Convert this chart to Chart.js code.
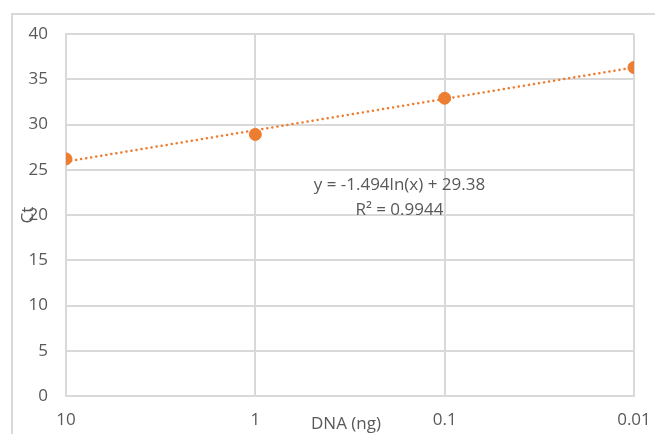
<!DOCTYPE html>
<html lang="en">
<head>
  <meta charset="UTF-8">
  <title>Ct vs DNA</title>
  <script src="https://cdn.jsdelivr.net/npm/chart.js"></script>
  <style>
    html, body { margin: 0; padding: 0; background: #fff; }
    #wrap { width: 655px; height: 434px; }
  </style>
</head>
<body>
  <div id="wrap"><canvas id="ctChart" width="655" height="434"></canvas></div>

  <script>
    // data
    const dnaAmounts = [10, 1, 0.1, 0.01];
    const ctValues = [26.2, 28.9, 32.9, 36.3];
    const xTickValues = [10, 1, 0.1, 0.01];
    const xTickLabels = ['10', '1', '0.1', '0.01'];
    const trendX = [10, 0.01];
    const trendY = [25.9, 36.3];
    const equationLines = ['y = -1.494ln(x) + 29.38', 'R\u00b2 = 0.9944'];
    const xTitle = 'DNA (ng)';
    const yTitle = 'Ct';

    const orange = '#ED7D31';
    const grey = '#D9D9D9';
    const textCol = '#595959';
    const fontFam = '"Open Sans", "Noto Sans", sans-serif';

    // frame, axis titles and the trendline label
    const extras = {
      id: 'extras',
      beforeDraw(chart) {
        const c = chart.ctx;
        c.save();
        c.strokeStyle = grey;
        c.lineWidth = 2;
        c.strokeRect(12, 14, 700, 500);
        c.restore();
      },
      afterDraw(chart) {
        const c = chart.ctx;
        const a = chart.chartArea;
        c.save();
        c.fillStyle = textCol;
        c.font = '17px ' + fontFam;
        c.textAlign = 'center';
        c.textBaseline = 'middle';
        const ex = a.left + (a.right - a.left) * 0.587;
        c.fillText(equationLines[0], ex, 185);
        c.fillText(equationLines[1], ex, 210);
        c.fillText(xTitle, 346, 424);
        c.translate(28, 215);
        c.rotate(-Math.PI / 2);
        c.fillText(yTitle, 0, 0);
        c.restore();
      }
    };

    new Chart(document.getElementById('ctChart'), {
      type: 'scatter',
      data: {
        datasets: [
          {
            label: 'Trend',
            data: trendX.map((x, i) => ({ x: x, y: trendY[i] })),
            showLine: true,
            borderColor: orange,
            borderWidth: 2.5,
            borderDash: [0.1, 5],
            borderCapStyle: 'round',
            pointRadius: 0,
            order: 2
          },
          {
            label: 'Ct',
            data: dnaAmounts.map((x, i) => ({ x: x, y: ctValues[i] })),
            backgroundColor: orange,
            borderColor: orange,
            pointRadius: 6,
            pointHoverRadius: 6,
            order: 1
          }
        ]
      },
      options: {
        responsive: false,
        animation: false,
        layout: { padding: { left: 0, top: 34, right: 21, bottom: 0 } },
        plugins: { legend: { display: false }, tooltip: { enabled: false } },
        scales: {
          x: {
            type: 'logarithmic',
            reverse: true,
            min: 0.01,
            max: 10,
            afterBuildTicks: s => { s.ticks = xTickValues.map(v => ({ value: v })); },
            afterFit: s => { s.height = 38; s.paddingLeft = 0; s.paddingRight = 0; },
            grid: { color: grey, lineWidth: 2, drawTicks: false },
            border: { color: grey, width: 2 },
            ticks: {
              padding: 14,
              color: textCol,
              font: { family: fontFam, size: 17 },
              maxRotation: 0,
              autoSkip: false,
              callback: v => xTickLabels[xTickValues.indexOf(v)] ?? ''
            }
          },
          y: {
            min: 0,
            max: 40,
            afterFit: s => { s.width = 66; s.paddingTop = 0; s.paddingBottom = 0; },
            grid: { color: grey, lineWidth: 2, drawTicks: false },
            border: { color: grey, width: 2 },
            ticks: {
              stepSize: 5,
              padding: 18,
              color: textCol,
              font: { family: fontFam, size: 17 }
            }
          }
        }
      },
      plugins: [extras]
    });
  </script>
</body>
</html>
